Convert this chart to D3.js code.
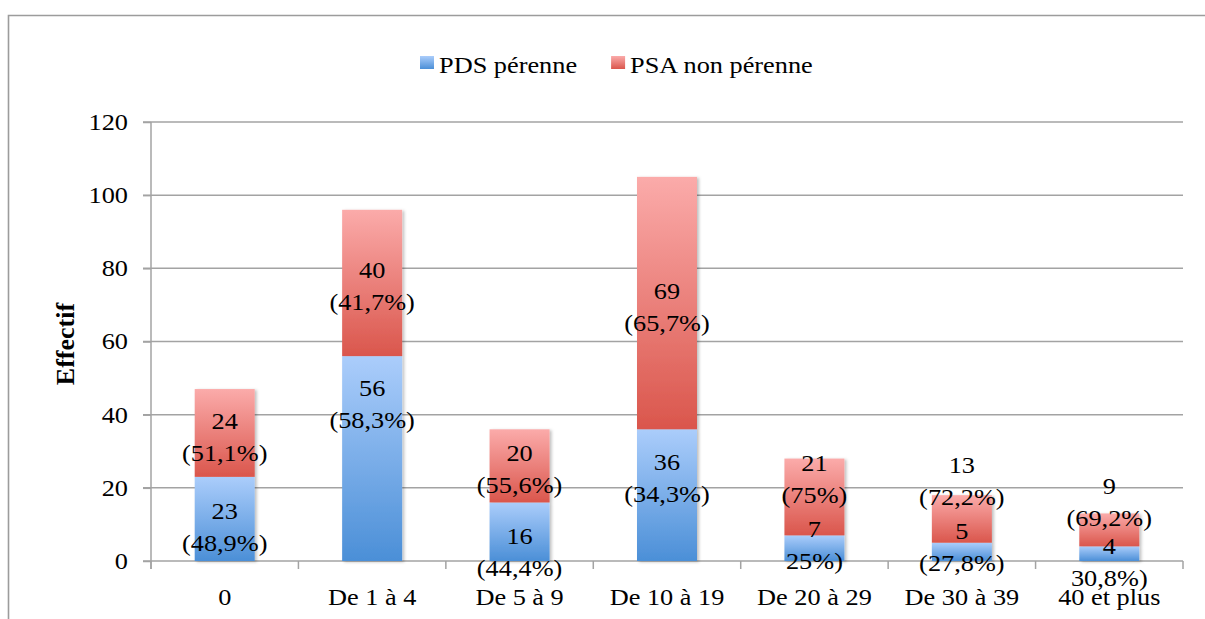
<!DOCTYPE html>
<html>
<head>
<meta charset="utf-8">
<script src="https://cdn.jsdelivr.net/npm/d3@7"></script>
<style>
  body { margin: 0; background: #fff; }
  svg text { font-family: 'Liberation Serif', 'Times New Roman', serif; fill: #000; }
</style>
</head>
<body>
<div class="container"></div>
<script>
const width = 1205, height = 619;

// data
const categories = ['0', 'De 1 à 4', 'De 5 à 9', 'De 10 à 19', 'De 20 à 29', 'De 30 à 39', '40 et plus'];
const pds = [23, 56, 16, 36, 7, 5, 4];
const psa = [24, 40, 20, 69, 21, 13, 9];
const pdsPct = ['(48,9%)', '(58,3%)', '(44,4%)', '(34,3%)', '25%)', '(27,8%)', '30,8%)'];
const psaPct = ['(51,1%)', '(41,7%)', '(55,6%)', '(65,7%)', '(75%)', '(72,2%)', '(69,2%)'];
const yTicks = [0, 20, 40, 60, 80, 100, 120];
const seriesNames = ['PDS pérenne', 'PSA non pérenne'];

// label nudges (px) away from segment middle, as placed in the original
const pdsLabelDy = [8, -55, 20, -17, -3, -5, 8];
const psaLabelDy = [4, 3, 3, 4, -18, -38, -28];

const margin = {left: 151, right: 22, top: 122, bottom: 58};
const fs = 23.5, sx = 1.12, lineGap = 32;
const gridCol = '#a3a3a3';

const x = d3.scaleBand().domain(categories)
	.range([margin.left, width - margin.right])
	.paddingInner(0.593).paddingOuter(0.2965);
const y = d3.scaleLinear().domain([0, 120]).range([height - margin.bottom, margin.top]);

let svg = d3.select('.container').append('svg')
	.attr('width', width).attr('height', height)
	.attr('viewBox', [0, 0, width, height]);

const defs = svg.append('defs');
function grad(id, top, bottom) {
	const g = defs.append('linearGradient').attr('id', id)
		.attr('x1', 0).attr('y1', 0).attr('x2', 0).attr('y2', 1);
	g.append('stop').attr('offset', '0%').attr('stop-color', top);
	g.append('stop').attr('offset', '100%').attr('stop-color', bottom);
}
grad('gBlue', '#abcdfb', '#4b8fd7');
grad('gRed', '#fbabaa', '#da564c');
const colors = ['url(#gBlue)', 'url(#gRed)'];

const f = defs.append('filter').attr('id', 'shadow')
	.attr('x', '-20%').attr('y', '-5%').attr('width', '140%').attr('height', '110%');
f.append('feDropShadow').attr('dx', 2).attr('dy', 1).attr('stdDeviation', 1.5)
	.attr('flood-color', '#000').attr('flood-opacity', 0.25);

function add_text(g, px, py, s) {
	return g.append('text')
		.attr('text-anchor', 'middle')
		.attr('dy', '0.34em')
		.attr('font-size', fs)
		.attr('transform', 'translate(' + px + ',' + py + ') scale(' + sx + ',1)')
		.text(s);
}

// outer frame
svg.append('path')
	.attr('d', 'M8.5,' + height + 'V15.5H' + width)
	.attr('fill', 'none').attr('stroke', '#9c9c9c').attr('stroke-width', 1.6);

// grid lines
svg.append('g').selectAll('line')
	.data(yTicks)
	.join('line')
	.attr('x1', margin.left - 8).attr('x2', width - margin.right)
	.attr('y1', d => y(d)).attr('y2', d => y(d))
	.attr('stroke', gridCol).attr('stroke-width', 1.5);

// y axis
const yAxis = svg.append('g')
	.attr('transform', 'translate(' + margin.left + ',0)')
	.call(d3.axisLeft(y).tickValues(yTicks).tickSize(8).tickSizeOuter(0));
yAxis.select('.domain').remove();
yAxis.selectAll('.tick line').attr('stroke', gridCol).attr('stroke-width', 1.5);
yAxis.selectAll('.tick text').remove();
yAxis.append('line')
	.attr('x1', 0).attr('x2', 0).attr('y1', y(120)).attr('y2', y(0) + 8)
	.attr('stroke', gridCol).attr('stroke-width', 1.5);
yTicks.forEach(t => {
	add_text(svg, 0, y(t), t).attr('text-anchor', 'end')
		.attr('transform', 'translate(128,' + y(t) + ') scale(' + sx + ',1)');
});

// x axis ticks at category boundaries
const bounds = categories.map(c => x(c) + x.bandwidth() / 2 - x.step() / 2)
	.concat([width - margin.right]);
svg.append('g').selectAll('line')
	.data(bounds)
	.join('line')
	.attr('x1', d => d).attr('x2', d => d)
	.attr('y1', y(0)).attr('y2', y(0) + 8)
	.attr('stroke', gridCol).attr('stroke-width', 1.5);

categories.forEach(c => {
	add_text(svg, x(c) + x.bandwidth() / 2, 597, c);
});

// y title
svg.append('text')
	.attr('transform', 'translate(65,344) rotate(-90)')
	.attr('text-anchor', 'middle')
	.attr('dy', '0.34em')
	.attr('font-size', 26)
	.attr('font-weight', 'bold')
	.text('Effectif');

// bars
const stackData = categories.map((c, i) => ({cat: c, pds: pds[i], psa: psa[i]}));
const stack = d3.stack().keys(['pds', 'psa'])(stackData);

const bars = svg.append('g').attr('filter', 'url(#shadow)');
stack.forEach((layer, k) => {
	bars.append('g')
		.selectAll('rect')
		.data(layer)
		.join('rect')
		.attr('x', d => x(d.data.cat))
		.attr('width', x.bandwidth())
		.attr('y', d => y(d[1]))
		.attr('height', d => y(d[0]) - y(d[1]))
		.attr('fill', colors[k]);
});

// labels
const labels = svg.append('g');
stack.forEach((layer, k) => {
	const vals = k === 0 ? pds : psa;
	const pcts = k === 0 ? pdsPct : psaPct;
	const dys = k === 0 ? pdsLabelDy : psaLabelDy;
	layer.forEach((d, i) => {
		const cx = x(d.data.cat) + x.bandwidth() / 2;
		const cy = y((d[0] + d[1]) / 2) + dys[i];
		add_text(labels, cx, cy - lineGap / 2, vals[i]);
		add_text(labels, cx, cy + lineGap / 2, pcts[i]);
	});
});

// legend
const legend = svg.append('g');
let lx = 420;
seriesNames.forEach((s, k) => {
	legend.append('rect')
		.attr('x', lx).attr('y', 56).attr('width', 14).attr('height', 13)
		.attr('fill', colors[k]);
	const t = legend.append('text')
		.attr('font-size', fs)
		.attr('transform', 'translate(' + (lx + 19) + ',73) scale(' + sx + ',1)')
		.text(s);
	lx += 19 + t.node().getComputedTextLength() * sx + 34;
});
</script>
</body>
</html>
